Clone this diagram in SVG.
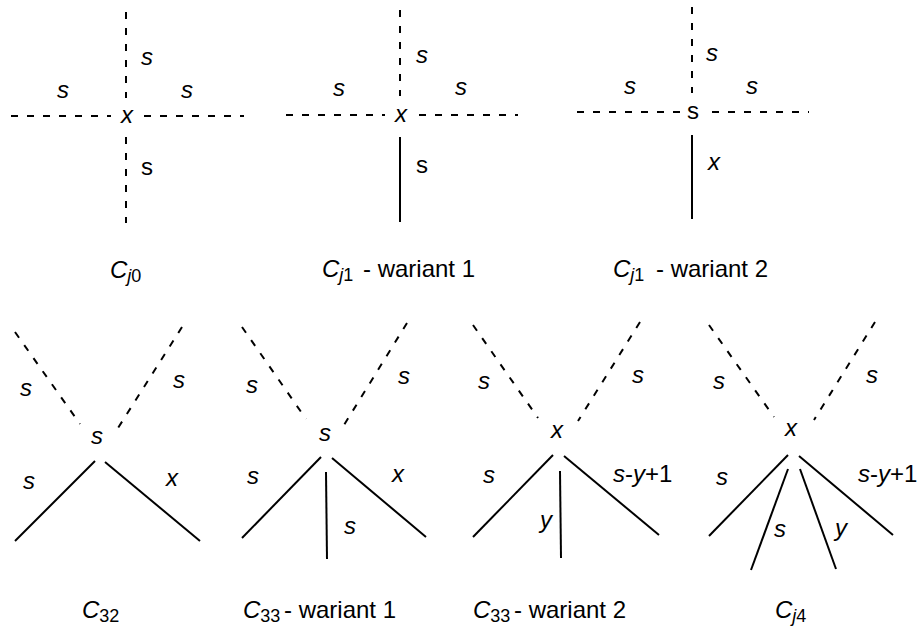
<svg xmlns="http://www.w3.org/2000/svg" width="921" height="628" viewBox="0 0 921 628">
  <style>
    .e { stroke: #000; stroke-width: 2; fill: none; stroke-linecap: butt; }
    .d { stroke-dasharray: 7 9; }
    text { font-family: "Liberation Sans", Arial, sans-serif; font-size: 24px; fill: #000; }
    .m { text-anchor: middle; }
    .i { font-style: italic; }
    .sub { font-size: 18px; }
  </style>
  <rect width="921" height="628" fill="#fff"/>

  <!-- edges of every configuration -->
  <g id="connectors">
    <!-- Cj0 -->
    <g id="edges-cj0">
      <line class="e d" x1="126" y1="12" x2="126" y2="98"/>
      <line class="e d" x1="126" y1="137" x2="126" y2="223"/>
      <line class="e d" x1="11" y1="116" x2="111" y2="116"/>
      <line class="e d" x1="144" y1="116" x2="244" y2="116"/>
    </g>
    <!-- Cj1 wariant 1 -->
    <g id="edges-cj1-w1">
      <line class="e d" x1="400" y1="10" x2="400" y2="96"/>
      <line class="e" x1="400" y1="137" x2="400" y2="222"/>
      <line class="e d" x1="286" y1="115" x2="385" y2="115"/>
      <line class="e d" x1="419" y1="115" x2="518" y2="115"/>
    </g>
    <!-- Cj1 wariant 2 -->
    <g id="edges-cj1-w2">
      <line class="e d" x1="692" y1="7" x2="692" y2="93"/>
      <line class="e" x1="692" y1="135" x2="692" y2="219"/>
      <line class="e d" x1="577" y1="112" x2="683" y2="112"/>
      <line class="e d" x1="712" y1="112" x2="809" y2="112"/>
    </g>
    <!-- C32 -->
    <g id="edges-c32">
      <line class="e d" x1="15" y1="332" x2="80" y2="424"/>
      <line class="e d" x1="182" y1="327" x2="118" y2="428"/>
      <line class="e" x1="95" y1="461" x2="15" y2="541"/>
      <line class="e" x1="105" y1="462" x2="200" y2="541"/>
    </g>
    <!-- C33 wariant 1 -->
    <g id="edges-c33-w1">
      <line class="e d" x1="242" y1="327" x2="306" y2="419"/>
      <line class="e d" x1="407" y1="323" x2="344" y2="425"/>
      <line class="e" x1="321" y1="457" x2="242" y2="538"/>
      <line class="e" x1="332" y1="458" x2="426" y2="537"/>
      <line class="e" x1="326" y1="472" x2="327" y2="559"/>
    </g>
    <!-- C33 wariant 2 -->
    <g id="edges-c33-w2">
      <line class="e d" x1="473" y1="325" x2="538" y2="418"/>
      <line class="e d" x1="640" y1="322" x2="578" y2="421"/>
      <line class="e" x1="553" y1="455" x2="473" y2="537"/>
      <line class="e" x1="564" y1="456" x2="659" y2="535"/>
      <line class="e" x1="560" y1="471" x2="561" y2="558"/>
    </g>
    <!-- Cj4 -->
    <g id="edges-cj4">
      <line class="e d" x1="709" y1="325" x2="774" y2="417"/>
      <line class="e d" x1="875" y1="322" x2="814" y2="420"/>
      <line class="e" x1="788" y1="455" x2="709" y2="536"/>
      <line class="e" x1="799" y1="456" x2="893" y2="535"/>
      <line class="e" x1="788" y1="469" x2="751" y2="570"/>
      <line class="e" x1="800" y1="469" x2="836" y2="569"/>
    </g>
  </g>

  <!-- Cj0 -->
  <g id="cj0">
    <text class="m i" x="127" y="123">x</text>
    <text class="m i" x="147" y="65">s</text>
    <text class="m i" x="63" y="98">s</text>
    <text class="m i" x="187" y="98">s</text>
    <text class="m" x="147" y="175">s</text>
    <text x="110" y="278"><tspan class="i">C</tspan><tspan class="sub i" dy="4">j</tspan><tspan class="sub">0</tspan></text>
  </g>

  <!-- Cj1 wariant 1 -->
  <g id="cj1-w1">
    <text class="m i" x="401" y="122">x</text>
    <text class="m i" x="422" y="63">s</text>
    <text class="m i" x="339" y="96">s</text>
    <text class="m i" x="461" y="95">s</text>
    <text class="m" x="422" y="173">s</text>
    <text x="322" y="277"><tspan class="i">C</tspan><tspan class="sub i" dy="4">j</tspan><tspan class="sub">1</tspan><tspan x="363" dy="-4">- wariant 1</tspan></text>
  </g>

  <!-- Cj1 wariant 2 -->
  <g id="cj1-w2">
    <text class="m" x="693" y="119">s</text>
    <text class="m i" x="712" y="61">s</text>
    <text class="m i" x="630" y="94">s</text>
    <text class="m i" x="752" y="94">s</text>
    <text class="m i" x="714" y="170">x</text>
    <text x="613" y="277"><tspan class="i">C</tspan><tspan class="sub i" dy="4">j</tspan><tspan class="sub">1</tspan><tspan x="656" dy="-4">- wariant 2</tspan></text>
  </g>

  <!-- C32 -->
  <g id="c32">
    <text class="m i" x="97" y="444">s</text>
    <text class="m i" x="26" y="396">s</text>
    <text class="m i" x="179" y="388">s</text>
    <text class="m i" x="29" y="489">s</text>
    <text class="m i" x="172" y="486">x</text>
    <text x="82" y="618"><tspan class="i">C</tspan><tspan class="sub" dy="4">32</tspan></text>
  </g>

  <!-- C33 wariant 1 -->
  <g id="c33-w1">
    <text class="m i" x="325" y="441">s</text>
    <text class="m i" x="252" y="393">s</text>
    <text class="m i" x="404" y="384">s</text>
    <text class="m i" x="253" y="484">s</text>
    <text class="m i" x="398" y="482">x</text>
    <text class="m i" x="350" y="534">s</text>
    <text x="243" y="618"><tspan class="i">C</tspan><tspan class="sub" dy="4">33</tspan><tspan x="284" dy="-4">- wariant 1</tspan></text>
  </g>

  <!-- C33 wariant 2 -->
  <g id="c33-w2">
    <text class="m i" x="557" y="438">x</text>
    <text class="m i" x="484" y="389">s</text>
    <text class="m i" x="638" y="383">s</text>
    <text class="m i" x="489" y="483">s</text>
    <text x="613" y="482"><tspan class="i">s</tspan>-<tspan class="i">y</tspan>+1</text>
    <text class="m i" x="546" y="528">y</text>
    <text x="473" y="618"><tspan class="i">C</tspan><tspan class="sub" dy="4">33</tspan><tspan x="514" dy="-4">- wariant 2</tspan></text>
  </g>

  <!-- Cj4 -->
  <g id="cj4">
    <text class="m i" x="791" y="436">x</text>
    <text class="m i" x="719" y="389">s</text>
    <text class="m i" x="872" y="383">s</text>
    <text class="m i" x="722" y="485">s</text>
    <text x="858" y="482"><tspan class="i">s</tspan>-<tspan class="i">y</tspan>+1</text>
    <text class="m i" x="780" y="537">s</text>
    <text class="m i" x="841" y="536">y</text>
    <text x="775" y="618"><tspan class="i">C</tspan><tspan class="sub i" dy="4">j</tspan><tspan class="sub">4</tspan></text>
  </g>
</svg>
